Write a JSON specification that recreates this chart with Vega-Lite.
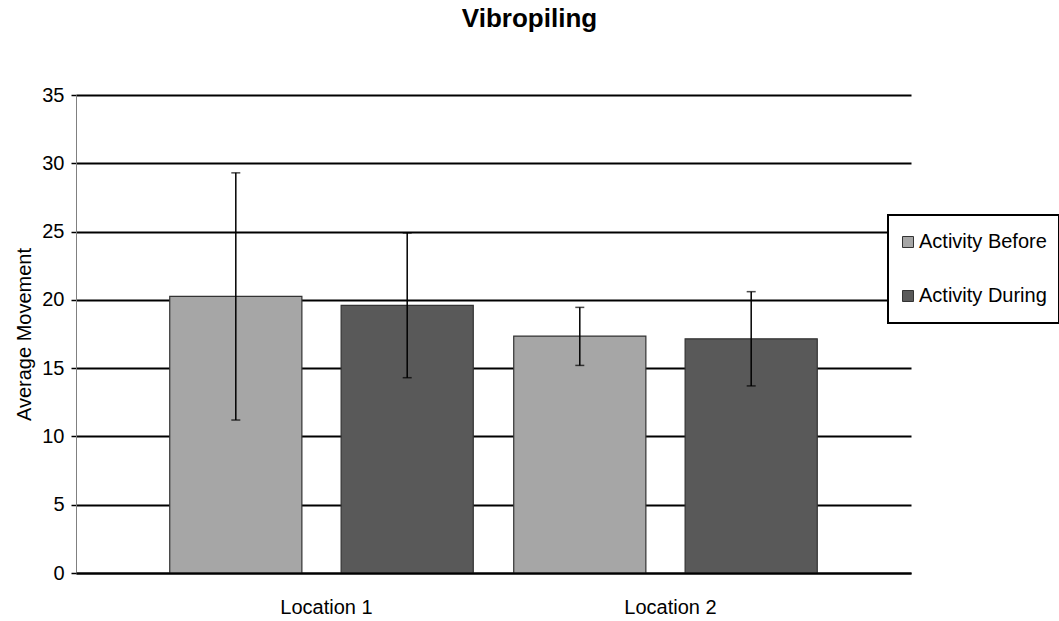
{
  "$schema": "https://vega.github.io/schema/vega-lite/v6.json",
  "width": 835,
  "height": 478,
  "autosize": "none",
  "padding": {"left": 76, "top": 95, "right": 148, "bottom": 48},
  "background": "white",
  "config": {"view": {"stroke": null}, "font": "Liberation Sans"},
  "title": {"text": "Vibropiling", "fontSize": 26, "fontWeight": "bold", "font": "Liberation Sans", "color": "black", "anchor": "middle", "dx": 36, "offset": 53},
  "data": {"values": [
    {"location": "Location 1", "series": "Activity Before", "mean": 20.25, "lo": 11.2, "hi": 29.3},
    {"location": "Location 1", "series": "Activity During", "mean": 19.6, "lo": 14.3, "hi": 24.9},
    {"location": "Location 2", "series": "Activity Before", "mean": 17.35, "lo": 15.2, "hi": 19.45},
    {"location": "Location 2", "series": "Activity During", "mean": 17.15, "lo": 13.7, "hi": 20.6}
  ]},
  "encoding": {
    "x": {"field": "location", "type": "nominal", "scale": {"paddingInner": 0, "paddingOuter": 0.2137},
      "axis": {"title": null, "labelAngle": 0, "ticks": false, "domainColor": "black", "domainWidth": 2, "labelFontSize": 20, "labelColor": "black", "labelPadding": 24, "labelOffset": 5, "zindex": 1}},
    "xOffset": {"field": "series", "type": "nominal", "sort": ["Activity Before", "Activity During"], "scale": {"paddingInner": 0.229, "paddingOuter": 0.118}}
  },
  "layer": [
    {
      "mark": {"type": "bar", "stroke": "#333333", "strokeWidth": 1.2},
      "encoding": {
        "y": {"field": "mean", "type": "quantitative", "scale": {"domain": [0, 35]}, "title": "Average Movement",
          "axis": {"values": [0, 5, 10, 15, 20, 25, 30, 35], "grid": true, "gridColor": "black", "gridWidth": 2, "domainColor": "#808080", "domainWidth": 1, "tickColor": "black", "tickSize": 5, "tickWidth": 1.5, "labelFontSize": 20, "labelColor": "black", "labelPadding": 7, "titleFontSize": 20, "titleFontWeight": "normal", "titleColor": "black", "titlePadding": 7}},
        "color": {"field": "series", "type": "nominal", "scale": {"domain": ["Activity Before", "Activity During"], "range": ["#a6a6a6", "#595959"]},
          "legend": {"orient": "none", "legendX": 812, "legendY": 120, "title": null, "strokeColor": "black", "fillColor": "white", "padding": 12, "rowPadding": 24, "clipHeight": 30, "symbolType": "square", "symbolSize": 121, "symbolOffset": -2, "symbolStrokeColor": "#333333", "symbolStrokeWidth": 1, "labelFontSize": 20, "labelColor": "black", "labelOffset": 1,
            "encode": {"legend": {"update": {"strokeWidth": {"value": 2}}}}}}
      }
    },
    {
      "mark": {"type": "rule", "color": "black", "strokeWidth": 1.5},
      "encoding": {"y": {"field": "lo", "type": "quantitative", "title": "Average Movement"}, "y2": {"field": "hi"}}
    },
    {
      "mark": {"type": "tick", "color": "black", "thickness": 1.5, "size": 9},
      "encoding": {"y": {"field": "lo", "type": "quantitative", "title": "Average Movement"}}
    },
    {
      "mark": {"type": "tick", "color": "black", "thickness": 1.5, "size": 9},
      "encoding": {"y": {"field": "hi", "type": "quantitative", "title": "Average Movement"}}
    }
  ]
}
